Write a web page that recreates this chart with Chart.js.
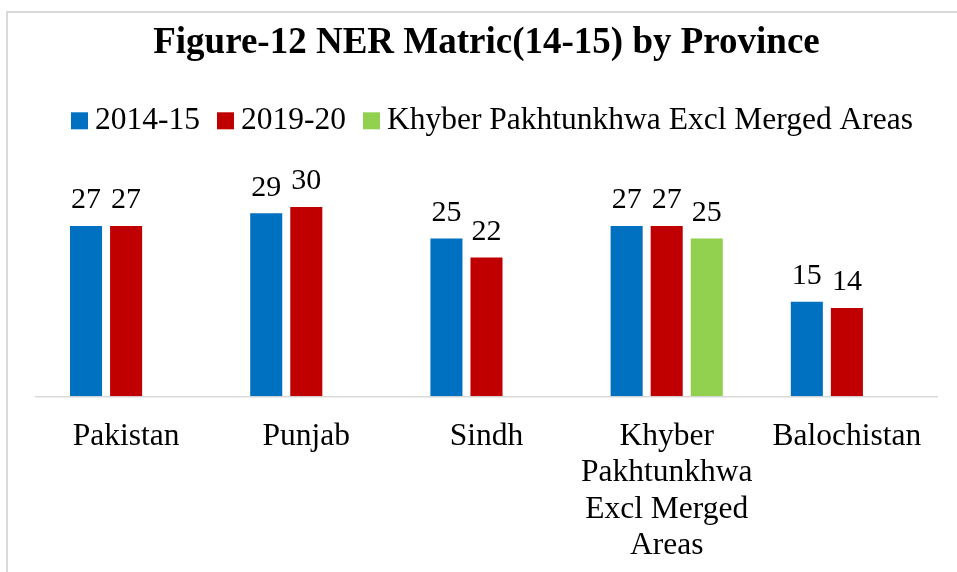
<!DOCTYPE html>
<html>
<head>
<meta charset="utf-8">
<script src="https://cdn.jsdelivr.net/npm/chart.js@4.4.1/dist/chart.umd.min.js"></script>
<style>
  html, body { margin: 0; padding: 0; background: #fff; overflow: hidden; width: 957px; height: 572px; }
  #frame { position: absolute; left: 6px; top: 11px; width: 960px; height: 598px; border: 2px solid #D9D9D9; background: #fff; }
  canvas { display: block; }
</style>
</head>
<body>
<div id="frame"><canvas id="c" width="960" height="598"></canvas></div>
<script>
const chartTitle = "Figure-12 NER Matric(14-15) by Province";
const categories = ["Pakistan", "Punjab", "Sindh", ["Khyber", "Pakhtunkhwa", "Excl Merged", "Areas"], "Balochistan"];
const seriesNames = ["2014-15", "2019-20", "Khyber Pakhtunkhwa Excl Merged Areas"];
const values2014 = [27, 29, 25, 27, 15];
const values2019 = [27, 30, 22, 27, 14];
const valuesKP = [null, null, null, 25, null];
const colors = ["#0070C0", "#C00000", "#92D050"];

const FONT = "'Liberation Serif', 'Times New Roman', serif";

const legendPlugin = {
  id: 'customLegend',
  afterDraw(chart) {
    const ctx = chart.ctx;
    const ds = chart.data.datasets;
    ctx.save();
    ctx.font = "31.5px " + FONT;
    const box = 17, gapBoxText = 7, gapItems = 17;
    let total = 0;
    const widths = ds.map(d => ctx.measureText(d.label).width);
    widths.forEach((w, i) => { total += box + gapBoxText + w + (i < ds.length - 1 ? gapItems : 0); });
    let x = 484 - total / 2;
    const baseline = 116.3;
    ds.forEach((d, i) => {
      ctx.fillStyle = d.backgroundColor;
      ctx.fillRect(x, baseline - box, box, box);
      x += box + gapBoxText;
      ctx.fillStyle = "#000";
      ctx.textAlign = "left";
      ctx.textBaseline = "alphabetic";
      ctx.fillText(d.label, x, baseline);
      x += widths[i] + gapItems;
    });
    ctx.restore();
  }
};

const valueLabelPlugin = {
  id: 'valueLabels',
  afterDatasetsDraw(chart) {
    const ctx = chart.ctx;
    ctx.save();
    ctx.font = "30px " + FONT;
    ctx.fillStyle = "#000";
    ctx.textAlign = "center";
    ctx.textBaseline = "alphabetic";
    chart.data.datasets.forEach((d, di) => {
      const meta = chart.getDatasetMeta(di);
      meta.data.forEach((el, i) => {
        const v = d.data[i];
        if (v === null || v === undefined) return;
        ctx.fillText(String(v), el.x, el.y - 17.6);
      });
    });
    ctx.restore();
  }
};

new Chart(document.getElementById('c'), {
  type: 'bar',
  data: {
    labels: categories,
    datasets: [
      { label: seriesNames[0], data: values2014, backgroundColor: colors[0] },
      { label: seriesNames[1], data: values2019, backgroundColor: colors[1] },
      { label: seriesNames[2], data: valuesKP, backgroundColor: colors[2] }
    ]
  },
  options: {
    responsive: false,
    animation: false,
    categoryPercentage: 0.667,
    barPercentage: 0.8,
    layout: { padding: { top: 0, left: 28, right: 31, bottom: 32.5 } },
    plugins: {
      legend: { display: false },
      tooltip: { enabled: false },
      title: {
        display: true,
        text: chartTitle,
        color: "#000",
        font: { family: FONT, size: 37, weight: 'bold', lineHeight: 1.2 },
        padding: { top: 8, bottom: 110 }
      }
    },
    scales: {
      x: {
        grid: { display: false },
        border: { display: true, color: "#D9D9D9", width: 1.5 },
        ticks: {
          color: "#000",
          font: { family: FONT, size: 31.5, lineHeight: 1.16 },
          padding: 14,
          maxRotation: 0,
          minRotation: 0,
          autoSkip: false
        }
      },
      y: {
        display: false,
        min: 0,
        max: 35
      }
    }
  },
  plugins: [legendPlugin, valueLabelPlugin]
});
</script>
</body>
</html>
